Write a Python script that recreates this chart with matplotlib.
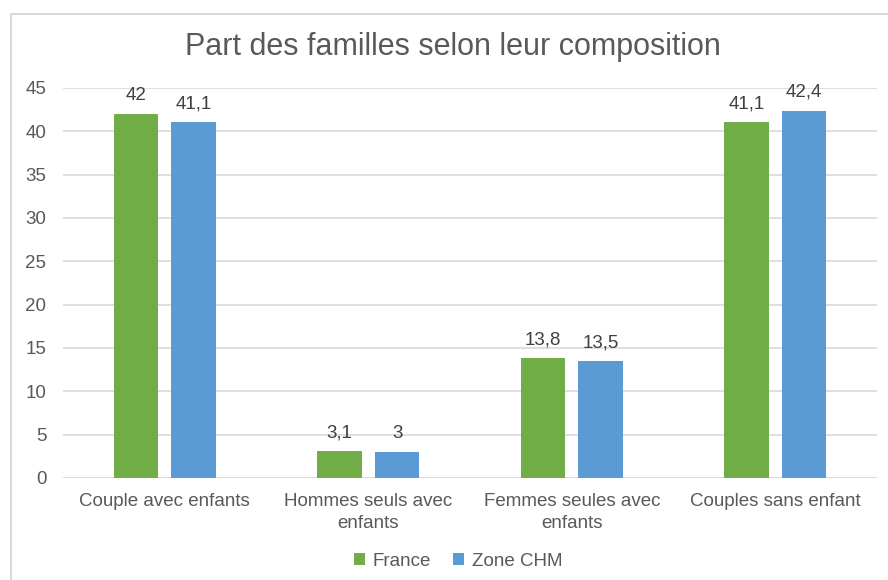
import matplotlib
matplotlib.use("Agg")
import matplotlib.pyplot as plt
from matplotlib.patches import Rectangle
import numpy as np

categories = ["Couple avec enfants", "Hommes seuls avec\nenfants", "Femmes seules avec\nenfants", "Couples sans enfant"]
france = [42, 3.1, 13.8, 41.1]
zone_chm = [41.1, 3, 13.5, 42.4]
series_names = ["France", "Zone CHM"]
yticks = [0, 5, 10, 15, 20, 25, 30, 35, 40, 45]

plt.rcParams['font.family'] = ['Liberation Sans', 'DejaVu Sans']
W, H = 888, 580
fig = plt.figure(figsize=(W/100, H/100), dpi=100)

# chart border
fig.patches.append(Rectangle((11/W, -0.1), 1.2, 1 - 14/H + 0.1, transform=fig.transFigure,
                             fill=False, edgecolor='#D9D9D9', linewidth=1.5))

ax = fig.add_axes([63/W, 1 - 478/H, (877-63)/W, (478-88)/H])
x = np.arange(len(categories))
bw = 0.22
off = 0.283
green = '#70AD47'
blue = '#5B9BD5'
fs = 13.5
b1 = ax.bar(x - off/2, france, width=bw, color=green, label=series_names[0], zorder=3)
b2 = ax.bar(x + off/2, zone_chm, width=bw, color=blue, label=series_names[1], zorder=3)

def fmt(v):
    return ('%g' % v).replace('.', ',')

for bars, vals in ((b1, france), (b2, zone_chm)):
    for r, v in zip(bars, vals):
        ax.text(r.get_x() + r.get_width()/2, v + 1.1, fmt(v), ha='center', va='bottom',
                fontsize=fs, color='#404040')

ax.set_xlim(-0.5, len(categories) - 0.5)
ax.set_ylim(0, 45)
ax.set_yticks(yticks)
ax.set_yticklabels([str(t) for t in yticks])
ax.set_xticks(x)
ax.set_xticklabels(categories, linespacing=1.35)
ax.tick_params(axis='both', length=0, labelsize=fs, colors='#595959')
ax.tick_params(axis='y', pad=12)
ax.tick_params(axis='x', pad=11)
ax.grid(axis='y', color='#D9D9D9', linewidth=1.2, zorder=0)
for s in ax.spines.values():
    s.set_visible(False)
ax.axhline(0, color='#D9D9D9', linewidth=1.2, zorder=2)

fig.text(453/W, 1 - 47/H, "Part des familles selon leur composition", ha='center', va='center',
         fontsize=22, color='#595959')

fig.legend(handles=[b1, b2], labels=series_names, loc='center', bbox_to_anchor=(458/W, 1 - 561/H),
           ncol=2, frameon=False, fontsize=fs, handlelength=0.6, handleheight=0.6,
           handletextpad=0.4, columnspacing=1.2, labelcolor='#595959')

fig.savefig("out.png", dpi=100)
